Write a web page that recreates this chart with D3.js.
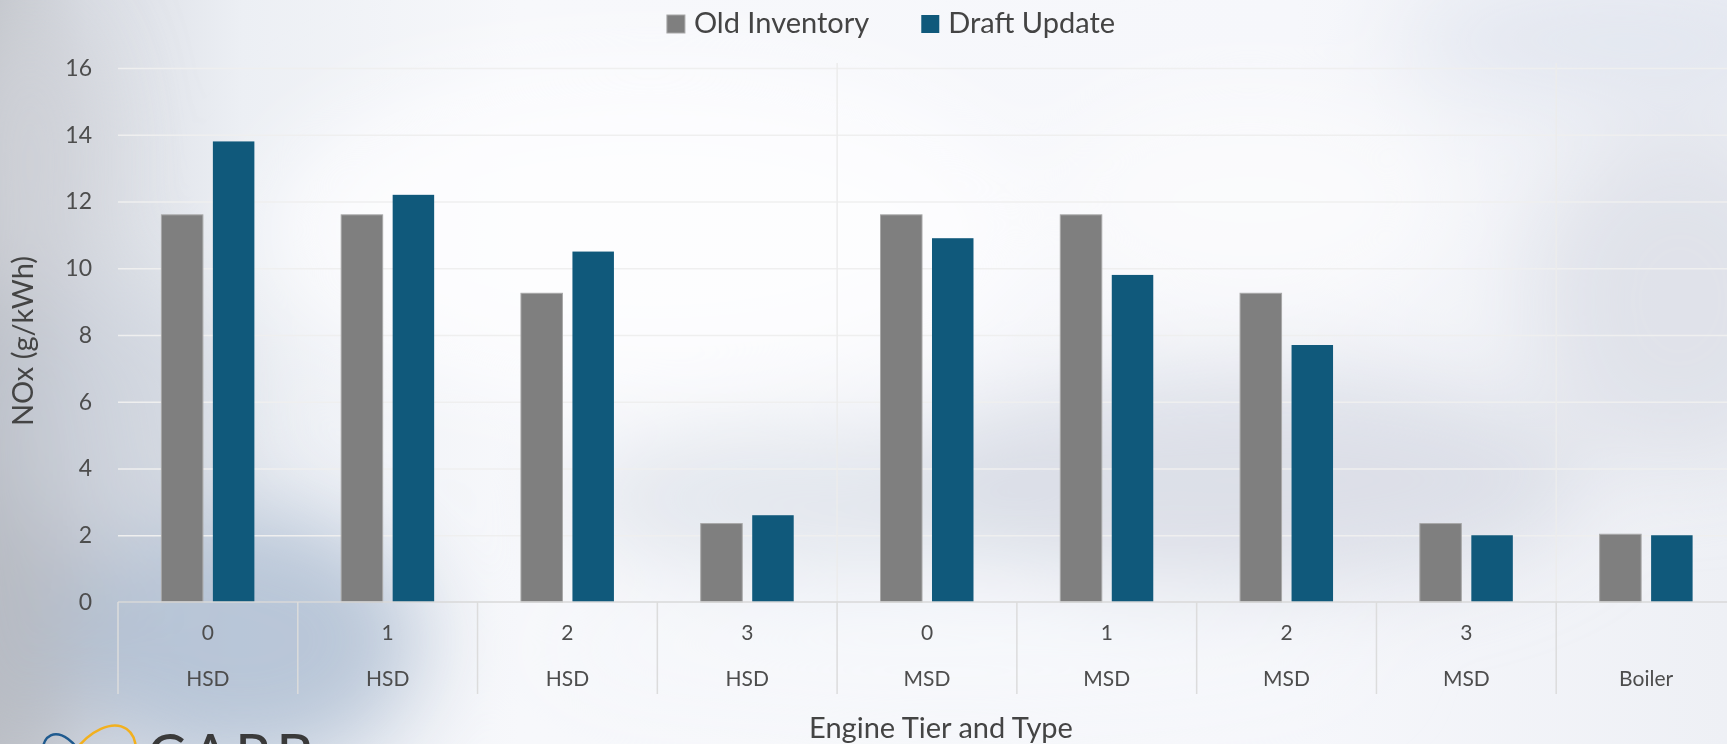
<!DOCTYPE html>
<html>
<head>
<meta charset="utf-8">
<script src="https://cdn.jsdelivr.net/npm/d3@7.9.0/dist/d3.min.js"></script>
<style>
  html, body { margin: 0; padding: 0; background: #f4f6fa; overflow: hidden; }
  svg { display: block; font-family: Lato, "Noto Sans", sans-serif; }
</style>
</head>
<body>
<svg id="chart" width="1727" height="744"></svg>
<script>
// chart data
const tiers = ["0", "1", "2", "3", "0", "1", "2", "3", ""];
const engineTypes = ["HSD", "HSD", "HSD", "HSD", "MSD", "MSD", "MSD", "MSD", "Boiler"];
const oldInventory = [11.6, 11.6, 9.25, 2.35, 11.6, 11.6, 9.25, 2.35, 2.03];
const draftUpdate = [13.8, 12.2, 10.5, 2.6, 10.9, 9.8, 7.7, 2.0, 2.0];
const seriesNames = ["Old Inventory", "Draft Update"];
const yTicks = [0, 2, 4, 6, 8, 10, 12, 14, 16];

const width = 1727;
const height = 744;
const plot = { left: 118, right: 1736, top: 68, bottom: 602 };
const colors = { "Old Inventory": "#7f7f7f", "Draft Update": "#10597b" };
const textColor = "#4d4d4d";

const svg = d3.select("#chart");

// --- photo-like background (soft blurred patches) ---
const defs = svg.append("defs");
const bgGrad = defs.append("linearGradient").attr("id", "bg").attr("x1", 0).attr("x2", 1).attr("y1", 0).attr("y2", 0);
[["0", "#c4c7cd"], ["0.05", "#d9dce3"], ["0.14", "#eceff4"], ["0.3", "#f7f8fb"], ["0.75", "#f6f7fb"], ["1", "#eef0f5"]]
  .forEach(([o, c]) => bgGrad.append("stop").attr("offset", o).attr("stop-color", c));
defs.append("filter").attr("id", "blur").attr("x", "-50%").attr("y", "-50%").attr("width", "200%").attr("height", "200%")
  .append("feGaussianBlur").attr("stdDeviation", 45);

svg.append("rect").attr("width", width).attr("height", height).attr("fill", "url(#bg)");

const patches = [
  { cx: 10, cy: 520, rx: 90, ry: 260, fill: "#b6b9c1", op: 0.9 },
  { cx: 240, cy: 640, rx: 180, ry: 130, fill: "#afbed2", op: 0.85 },
  { cx: 120, cy: 420, rx: 120, ry: 140, fill: "#cdd3dd", op: 0.7 },
  { cx: 30, cy: 160, rx: 70, ry: 160, fill: "#cfd2d8", op: 0.8 },
  { cx: 820, cy: 500, rx: 260, ry: 70, fill: "#dde2ea", op: 0.8 },
  { cx: 1250, cy: 480, rx: 340, ry: 110, fill: "#d6dae3", op: 0.8 },
  { cx: 1680, cy: 300, rx: 150, ry: 170, fill: "#dcdfe7", op: 0.8 },
  { cx: 1620, cy: 40, rx: 220, ry: 60, fill: "#dfe4ee", op: 0.8 },
  { cx: 650, cy: 230, rx: 380, ry: 170, fill: "#fdfdfe", op: 0.9 },
  { cx: 1250, cy: 200, rx: 200, ry: 110, fill: "#fbfbfd", op: 0.8 },
  { cx: 950, cy: 650, rx: 420, ry: 60, fill: "#f6f8fb", op: 0.8 }
];
svg.append("g").attr("filter", "url(#blur)")
  .selectAll("ellipse").data(patches).join("ellipse")
  .attr("cx", d => d.cx).attr("cy", d => d.cy).attr("rx", d => d.rx).attr("ry", d => d.ry)
  .attr("fill", d => d.fill).attr("opacity", d => d.op);

// --- scales ---
const x0 = d3.scaleBand().domain(d3.range(engineTypes.length)).range([plot.left, plot.right]).padding(0);
const x1 = d3.scaleBand().domain(seriesNames).range([0, x0.bandwidth()])
  .paddingInner(0.194).paddingOuter(0.843);
const y = d3.scaleLinear().domain([0, 16]).range([plot.bottom, plot.top]);

// horizontal gridlines
svg.append("g")
  .attr("transform", `translate(${plot.left},0)`)
  .call(d3.axisLeft(y).tickValues(yTicks.slice(1)).tickSize(-(plot.right - plot.left)).tickFormat(""))
  .call(g => g.select(".domain").remove())
  .call(g => g.selectAll("line").attr("stroke", "#efefef").attr("stroke-width", 1.5));

// group separators (HSD | MSD | Boiler) through the plot
const groupEdges = [4, 8];
svg.append("g").selectAll("line").data(groupEdges).join("line")
  .attr("x1", i => x0(i)).attr("x2", i => x0(i))
  .attr("y1", plot.top - 5).attr("y2", plot.bottom)
  .attr("stroke", "#ececec").attr("stroke-width", 1.5);

// y tick labels
svg.append("g")
  .attr("transform", `translate(${plot.left},0)`)
  .call(d3.axisLeft(y).tickValues(yTicks).tickSize(0).tickPadding(26))
  .call(g => g.select(".domain").remove())
  .call(g => g.selectAll("text").attr("fill", textColor).style("font-size", "23px").style("font-family", "Lato"));

// bars
const rows = engineTypes.map((t, i) => ({ i, values: [oldInventory[i], draftUpdate[i]] }));
svg.append("g").selectAll("g").data(rows).join("g")
  .attr("transform", d => `translate(${x0(d.i)},0)`)
  .selectAll("rect")
  .data(d => d.values.map((v, k) => ({ key: seriesNames[k], value: v })))
  .join("rect")
  .attr("x", d => x1(d.key))
  .attr("y", d => y(d.value))
  .attr("width", x1.bandwidth())
  .attr("height", d => y(0) - y(d.value))
  .attr("fill", d => colors[d.key])
  .attr("stroke", d => d.key === "Old Inventory" ? "#a8a8a8" : "none")
  .attr("stroke-width", 1);

// category axis: baseline and table-like separators
const axisBottom = 694;
svg.append("line")
  .attr("x1", plot.left).attr("x2", plot.right)
  .attr("y1", plot.bottom).attr("y2", plot.bottom)
  .attr("stroke", "#d9d9d9").attr("stroke-width", 1.5);
svg.append("g").selectAll("line").data(d3.range(engineTypes.length + 1)).join("line")
  .attr("x1", i => i < engineTypes.length ? x0(i) : plot.right)
  .attr("x2", i => i < engineTypes.length ? x0(i) : plot.right)
  .attr("y1", plot.bottom).attr("y2", axisBottom)
  .attr("stroke", "#dcdcdc").attr("stroke-width", 1.5);

const catLabels = svg.append("g").attr("fill", textColor).style("font-size", "21px").attr("text-anchor", "middle");
catLabels.selectAll("text.tier").data(tiers).join("text")
  .attr("class", "tier")
  .attr("x", (d, i) => x0(i) + x0.bandwidth() / 2)
  .attr("y", 640)
  .text(d => d);
catLabels.selectAll("text.type").data(engineTypes).join("text")
  .attr("class", "type")
  .attr("x", (d, i) => x0(i) + x0.bandwidth() / 2)
  .attr("y", 686)
  .text(d => d);

// axis titles
svg.append("text")
  .attr("x", 941).attr("y", 738)
  .attr("text-anchor", "middle")
  .attr("fill", "#444").style("font-size", "29px")
  .text("Engine Tier and Type");

svg.append("text")
  .attr("transform", "translate(33,341) rotate(-90)")
  .attr("text-anchor", "middle")
  .attr("fill", "#444").style("font-size", "29px")
  .text("NOx (g/kWh)");

// legend, centred above the plot
const legend = svg.append("g");
let lx = 0;
seriesNames.forEach((name, k) => {
  const item = legend.append("g").attr("transform", `translate(${lx},0)`);
  item.append("rect")
    .attr("x", 0).attr("y", 15).attr("width", 18).attr("height", 18)
    .attr("fill", colors[name])
    .attr("stroke", k === 0 ? "#a8a8a8" : "none");
  const t = item.append("text")
    .attr("x", 27).attr("y", 33)
    .attr("fill", "#444").style("font-size", "29px")
    .text(name);
  lx += 27 + t.node().getComputedTextLength() + 52;
});
const legendWidth = lx - 52;
legend.attr("transform", `translate(${891 - legendWidth / 2},0)`);

// partial logo at the bottom-left edge (cut off by the frame, as in the slide)
const logo = svg.append("g");
logo.append("ellipse").attr("cx", 66).attr("cy", 768).attr("rx", 20).attr("ry", 36)
  .attr("transform", "rotate(-25,66,768)")
  .attr("fill", "none").attr("stroke", "#1f5a8f").attr("stroke-width", 2.5);
logo.append("ellipse").attr("cx", 98).attr("cy", 770).attr("rx", 30).attr("ry", 50)
  .attr("transform", "rotate(35,98,770)")
  .attr("fill", "none").attr("stroke", "#f2b01e").attr("stroke-width", 2.5);
logo.append("text")
  .attr("x", 147).attr("y", 776)
  .attr("fill", "#3a3a3a").style("font-size", "58px").style("letter-spacing", "5px")
  .text("CARB");
</script>
</body>
</html>
